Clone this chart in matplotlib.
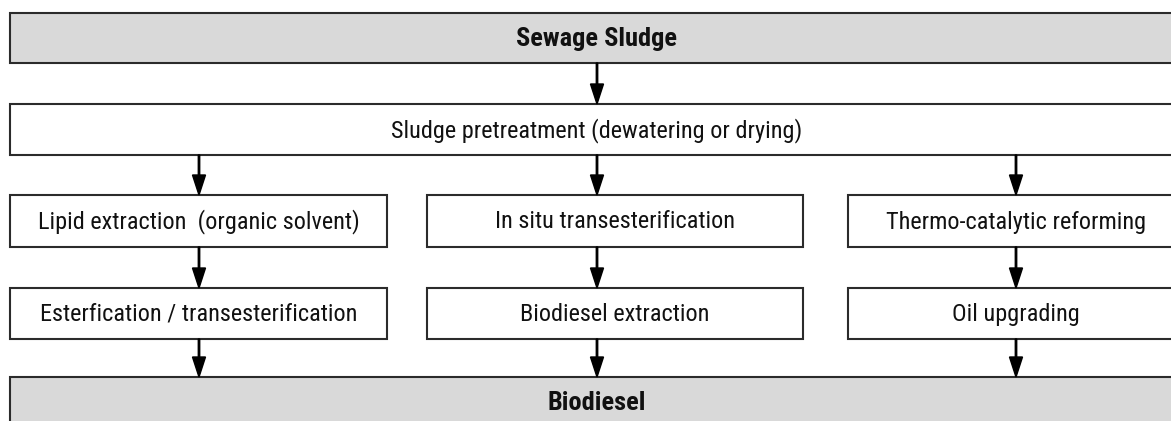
import matplotlib
matplotlib.use("Agg")
import matplotlib.pyplot as plt
from matplotlib.patches import Rectangle, FancyArrow

# ---- content ----
top_label = "Sewage Sludge"
pretreat_label = "Sludge pretreatment (dewatering or drying)"
route_step1 = ["Lipid extraction  (organic solvent)",
               "In situ transesterification",
               "Thermo-catalytic reforming"]
route_step2 = ["Esterfication / transesterification",
               "Biodiesel extraction",
               "Oil upgrading"]
bottom_label = "Biodiesel"

# ---- layout (pixel coordinates, y down) ----
W, H = 1171, 421
full_x = (10, 1184)
col_x = [(10, 387), (427, 803), (848, 1184)]
arrow_x = [199, 597, 1016]
center_arrow_x = 597
row_top = (13, 63)
row_pre = (104, 155)
row_s1 = (195, 247)
row_s2 = (288, 339)
row_bot = (377, 428)

family = ["Liberation Sans Narrow", "Roboto Condensed", "Roboto", "DejaVu Sans"]

fig = plt.figure(figsize=(W / 100, H / 100), dpi=100)
ax = fig.add_axes([0, 0, 1, 1])
ax.set_xlim(0, W)
ax.set_ylim(H, 0)
ax.axis("off")

edge = "#2b2b2b"
gray = "#d9d9d9"
FS = 17.5
FS_BOLD = 19


def box(x0, x1, y0, y1, text, fill="white", bold=False):
    ax.add_patch(Rectangle((x0, y0), x1 - x0, y1 - y0, facecolor=fill,
                           edgecolor=edge, linewidth=1.5, clip_on=False))
    ax.text((x0 + x1) / 2, (y0 + y1) / 2 + 1, text, ha="center", va="center",
            fontsize=FS_BOLD if bold else FS, family=family,
            fontweight="bold" if bold else "normal", color="#111111")


def arrow(x, y0, y1):
    ax.add_patch(FancyArrow(x, y0, 0, y1 - y0, width=1.4, head_width=13,
                            head_length=20, length_includes_head=True,
                            color="black"))


box(*full_x, *row_top, top_label, fill=gray, bold=True)
box(*full_x, *row_pre, pretreat_label)
for (x0, x1), t in zip(col_x, route_step1):
    box(x0, x1, *row_s1, t)
for (x0, x1), t in zip(col_x, route_step2):
    box(x0, x1, *row_s2, t)
box(*full_x, *row_bot, bottom_label, fill=gray, bold=True)

arrow(center_arrow_x, row_top[1], row_pre[0])
for x in arrow_x:
    arrow(x, row_pre[1], row_s1[0])
    arrow(x, row_s1[1], row_s2[0])
    arrow(x, row_s2[1], row_bot[0])

fig.savefig("out.png", dpi=100)
